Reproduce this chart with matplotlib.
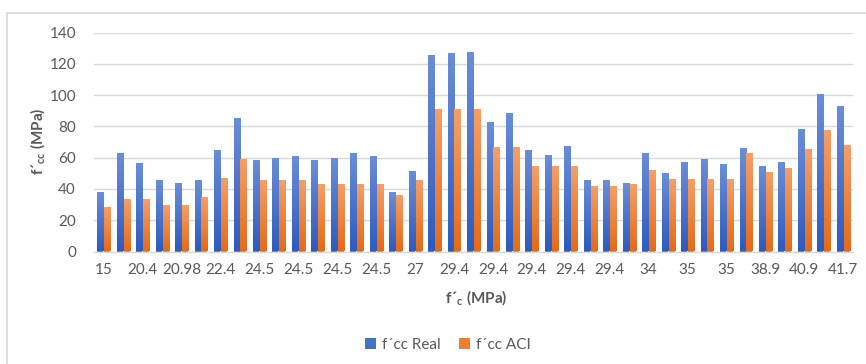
import numpy as np
import matplotlib
matplotlib.use("Agg")
import matplotlib.pyplot as plt
from matplotlib.colors import LinearSegmentedColormap
from matplotlib.patches import Patch
from matplotlib.lines import Line2D

# ---- data ----
tick_labels = ["15", "20.4", "20.98", "22.4", "24.5", "24.5", "24.5", "24.5", "27",
               "29.4", "29.4", "29.4", "29.4", "29.4", "34", "35", "35", "38.9", "40.9", "41.7"]
fcc_real = [38.2, 63.1, 56.5, 45.5, 43.8, 45.9, 65.2, 85.2, 58.6, 59.9,
            61.0, 58.6, 59.9, 63.1, 61.0, 37.8, 51.4, 125.6, 126.6, 127.3,
            83.1, 88.4, 64.8, 61.8, 67.6, 45.9, 45.9, 43.8, 63.1, 50.4,
            56.9, 59.3, 55.9, 65.9, 54.8, 56.9, 78.6, 100.7, 92.8]
fcc_aci = [28.7, 33.8, 33.8, 30.0, 30.0, 34.8, 47.0, 59.3, 45.5, 45.5,
           45.5, 43.3, 43.3, 43.3, 43.3, 36.1, 45.5, 91.1, 91.1, 91.1,
           66.5, 66.5, 54.4, 54.4, 54.4, 42.1, 42.1, 43.3, 52.0, 46.5,
           46.5, 46.5, 46.5, 63.1, 51.0, 53.1, 65.4, 77.5, 68.2]
series_names = ["f´cc Real", "f´cc ACI"]

plt.rcParams['font.family'] = ['Lato', 'DejaVu Sans']
plt.rcParams['mathtext.fontset'] = 'custom'
plt.rcParams['mathtext.rm'] = 'Lato'
plt.rcParams['mathtext.bf'] = 'Lato:bold'

W, H = 866, 364
fig = plt.figure(figsize=(W / 100, H / 100), dpi=100)
ax = fig.add_axes([94 / W, 1 - 251.5 / H, (853 - 94) / W, (251.5 - 32.5) / H])

txt = '#595959'
grid = '#D9D9D9'
blue_c, orange_c = '#4472C4', '#ED7D31'
blue_cm = LinearSegmentedColormap.from_list('b', ['#2D5BBE', '#6B8ED6'])
orange_cm = LinearSegmentedColormap.from_list('o', ['#E56A18', '#F4A06A'])

n = len(fcc_real)
x = np.arange(n)
bw = 0.31
off = 0.175
grad = np.linspace(0, 1, 256).reshape(-1, 1)

for vals, dx, cm, col in [(fcc_real, -off, blue_cm, blue_c), (fcc_aci, off, orange_cm, orange_c)]:
    bars = ax.bar(x + dx, vals, width=bw, color=col, edgecolor='none', zorder=2)
    for b in bars:
        x0 = b.get_x(); w = b.get_width(); h = b.get_height()
        im = ax.imshow(grad, extent=[x0, x0 + w, 0, h], origin='lower', cmap=cm,
                       aspect='auto', zorder=3, interpolation='bilinear')
        im.set_clip_path(b)

ax.set_xlim(-0.5, n - 0.5)
ax.set_ylim(0, 140)
ax.set_aspect('auto')
ax.set_yticks(np.arange(0, 141, 20))
ax.set_xticks(np.arange(0, n, 2))
ax.set_xticklabels(tick_labels)
ax.tick_params(axis='both', length=0, labelsize=11, colors=txt)
ax.tick_params(axis='y', pad=13)
ax.tick_params(axis='x', pad=8)
ax.grid(axis='y', color=grid, lw=1, zorder=0)
ax.set_axisbelow(True)
for s in ['top', 'right', 'left']:
    ax.spines[s].set_visible(False)
ax.spines['bottom'].set_color(grid)
ax.spines['bottom'].set_linewidth(1)

fig.text(38 / W, 1 - 141 / H, r"f´$_{\mathbf{cc}}$ (MPa)", rotation=90, ha='center', va='center',
         fontsize=11, fontweight='bold', color=txt)
fig.text(476 / W, 1 - 298 / H, r"f´$_{\mathbf{c}}$ (MPa)", ha='center', va='center',
         fontsize=11, fontweight='bold', color=txt)

handles = [Patch(facecolor=blue_c), Patch(facecolor=orange_c)]
fig.legend(handles, series_names, loc='center', bbox_to_anchor=(448 / W, 1 - 345 / H), ncol=2,
           frameon=False, fontsize=11, handlelength=0.7, handleheight=0.7, handletextpad=0.4,
           columnspacing=1.2, labelcolor=txt)

# chart frame (left and top edges visible)
fig.add_artist(Line2D([7 / W, 7 / W], [0, 1 - 12.7 / H], color=grid, lw=1.2, transform=fig.transFigure))
fig.add_artist(Line2D([7 / W, 1], [1 - 12.7 / H, 1 - 12.7 / H], color=grid, lw=1.2, transform=fig.transFigure))

fig.savefig('out.png', dpi=100, facecolor='white')
